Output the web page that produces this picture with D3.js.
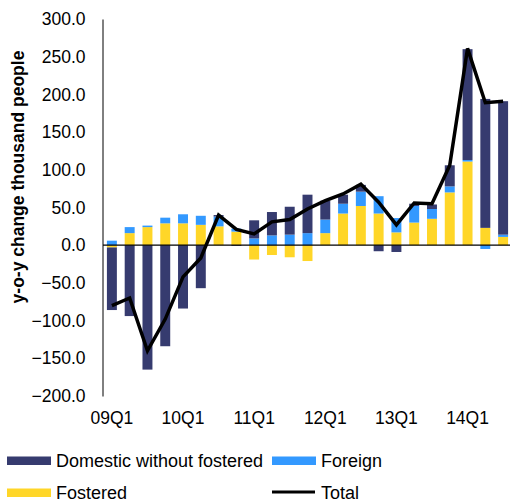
<!DOCTYPE html>
<html>
<head>
<meta charset="utf-8">
<script src="https://cdn.jsdelivr.net/npm/d3@7"></script>
<style>
  html, body { margin: 0; padding: 0; background: #fff; }
  svg { display: block; font-family: "Liberation Sans", Arial, sans-serif; }
</style>
</head>
<body>
<svg id="chart" width="510" height="502"></svg>
<script>
// Quarterly year-on-year change, thousand people
const quarters = ["09Q1","09Q2","09Q3","09Q4","10Q1","10Q2","10Q3","10Q4",
                  "11Q1","11Q2","11Q3","11Q4","12Q1","12Q2","12Q3","12Q4",
                  "13Q1","13Q2","13Q3","13Q4","14Q1","14Q2","14Q3"];
const domestic = [-83, -94, -165, -134, -84, -57, 2, -1, 24, 31, 37, 51,
                  25, 12, 9, -8, -9, 3, 6, 28, 147, 171, 177];
const foreign  = [6, 8, 2, 7.5, 12, 12, 13, 4, 9, 13, 14, 16,
                  18, 13, 19, 23, 19, 22, 13, 8, 2, -5, 3];
const fostered = [-3, 16, 24, 29, 29, 27, 25, 18, -19, -13, -16, -21,
                  16, 42, 52, 42, 17, 30, 35, 70, 111, 23, 11];
const total    = [-80, -70, -140, -98, -42, -17, 40, 21, 15, 31, 34, 48,
                  59, 68, 81, 57, 27, 56, 55, 106, 261, 189, 191];
const yTicks = [-200, -150, -100, -50, 0, 50, 100, 150, 200, 250, 300];
const xLabels = ["09Q1","10Q1","11Q1","12Q1","13Q1","14Q1"];

const seriesNames = ["Fostered", "Foreign", "Domestic without fostered"];
const colors = {
  "Domestic without fostered": "#363B6F",
  "Foreign": "#3399FF",
  "Fostered": "#FFD628"
};

const rows = quarters.map((q, i) => ({
  q,
  "Fostered": fostered[i],
  "Foreign": foreign[i],
  "Domestic without fostered": domestic[i]
}));

const svg = d3.select("#chart");

const x = d3.scaleBand().domain(quarters).range([103, 512])
  .paddingInner(0.44).paddingOuter(0.22);
const y = d3.scaleLinear().domain([-200, 300]).range([396, 19]);

const stack = d3.stack().keys(seriesNames)
  .order(d3.stackOrderNone).offset(d3.stackOffsetDiverging);
const layers = stack(rows);

// stacked bars
svg.append("g").selectAll("g")
  .data(layers).join("g")
  .attr("fill", d => colors[d.key])
  .selectAll("rect")
  .data(d => d).join("rect")
  .attr("x", d => x(d.data.q))
  .attr("width", x.bandwidth())
  .attr("y", d => y(Math.max(d[0], d[1])))
  .attr("height", d => Math.abs(y(d[0]) - y(d[1])));

// zero line
svg.append("line")
  .attr("x1", 103).attr("x2", 510)
  .attr("y1", y(0)).attr("y2", y(0))
  .attr("stroke", "#000").attr("stroke-width", 1.2);

// y axis
const yAxis = d3.axisLeft(y).tickValues(yTicks).tickFormat(d3.format(".1f"))
  .tickSize(0).tickPadding(17);
const gy = svg.append("g").attr("transform", "translate(102.5,0)").call(yAxis);
gy.select(".domain").attr("stroke", "#000").attr("stroke-width", 1);
gy.selectAll("text").attr("font-size", 17.5).attr("fill", "#000")
  .attr("font-family", "Liberation Sans, Arial, sans-serif");

// x labels
svg.append("g").selectAll("text")
  .data(xLabels).join("text")
  .attr("x", d => x(d) + x.bandwidth() / 2)
  .attr("y", 424)
  .attr("text-anchor", "middle")
  .attr("font-size", 17.5)
  .text(d => d);

// y title
svg.append("text")
  .attr("transform", "translate(24,177) rotate(-90)")
  .attr("text-anchor", "middle")
  .attr("font-size", 17.5)
  .attr("font-weight", "bold")
  .text("y-o-y change thousand people");

// total line
const line = d3.line()
  .x((d, i) => x(quarters[i]) + x.bandwidth() / 2)
  .y(d => y(d));
svg.append("path")
  .datum(total)
  .attr("d", line)
  .attr("fill", "none")
  .attr("stroke", "#000")
  .attr("stroke-width", 3.5)
  .attr("stroke-linejoin", "miter");

// legend
const legend = [
  { name: "Domestic without fostered", type: "rect", x: 7, y: 461 },
  { name: "Foreign", type: "rect", x: 272, y: 461 },
  { name: "Fostered", type: "rect", x: 7, y: 493 },
  { name: "Total", type: "line", x: 272, y: 493 }
];
const lg = svg.append("g").selectAll("g").data(legend).join("g")
  .attr("transform", d => `translate(${d.x},${d.y})`);
lg.filter(d => d.type === "rect").append("rect")
  .attr("x", 0).attr("y", -4.5).attr("width", 44).attr("height", 8.5)
  .attr("fill", d => colors[d.name]);
lg.filter(d => d.type === "line").append("line")
  .attr("x1", 0).attr("x2", 43).attr("y1", -1).attr("y2", -1)
  .attr("stroke", "#000").attr("stroke-width", 3);
lg.append("text")
  .attr("x", 49).attr("y", 6)
  .attr("font-size", 18)
  .text(d => d.name);
</script>
</body>
</html>
